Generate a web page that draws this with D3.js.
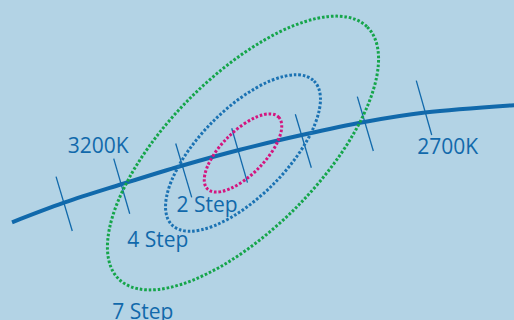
<!DOCTYPE html>
<html>
<head>
<meta charset="utf-8">
<script src="https://cdn.jsdelivr.net/npm/d3@7"></script>
<style>
  html, body { margin: 0; padding: 0; background: #b3d3e5; }
  svg { display: block; }
</style>
</head>
<body>
<svg id="chart" width="514" height="320"></svg>
<script>
// Planckian locus samples in CIE 1931 (x, y)
const locusX = [0.40803, 0.41453, 0.42169, 0.42934, 0.43640, 0.44453, 0.45206, 0.45965, 0.47150];
const locusY = [0.39544, 0.39789, 0.40019, 0.40254, 0.40448, 0.40641, 0.40798, 0.40916, 0.41013];

// Isotemperature lines, one every 100 K
const cct     = [3300, 3200, 3100, 3000, 2900, 2800, 2700];
const isoTopX = [0.41353, 0.42074, 0.42849, 0.43549, 0.44344, 0.45119, 0.45856];
const isoTopY = [0.40114, 0.40339, 0.40529, 0.40719, 0.40894, 0.41114, 0.41314];
const isoBotX = [0.41556, 0.42274, 0.43049, 0.43746, 0.44544, 0.45319, 0.46049];
const isoBotY = [0.39435, 0.39651, 0.39856, 0.40039, 0.40226, 0.40435, 0.40635];
const labelledCct = [3200, 2700];
const cctLabels   = ["3200K", "2700K"];

// MacAdam ellipse around the 3000 K target (one-step semi-axes)
const ellipseCenterX = 0.4369;
const ellipseCenterY = 0.4041;
const ellipseA = 0.00316;
const ellipseB = 0.00136;
const ellipseAngle = 45.4;          // degrees, counter-clockwise from the x axis
const steps      = [2, 4, 7];
const stepLabels = ["2 Step", "4 Step", "7 Step"];

// ---- styling / layout ----
const W = 514, H = 320;
const INK = "#1169ab";
const stepColors = ["#d4157f", "#1b72b3", "#15a54a"];
const cctLabelOffset = [[15, -5.4, "end"], [-14.4, 19, "start"]];   // from isotherm top / bottom
const stepLabelOffset = [[-66.5, 58.7], [-115.7, 94.3], [-130.7, 165.5]];

const x = d3.scaleLinear().domain([0.406525, 0.470775]).range([0, W]);
const y = d3.scaleLinear().domain([0.383225, 0.423225]).range([H, 0]);

const svg = d3.select("#chart");
svg.append("rect").attr("width", W).attr("height", H).attr("fill", "#b3d3e5");

// locus curve
const locus = d3.zip(locusX, locusY);
svg.append("path")
  .datum(locus)
  .attr("d", d3.line().x(d => x(d[0])).y(d => y(d[1])).curve(d3.curveCatmullRom.alpha(0.5)))
  .attr("fill", "none")
  .attr("stroke", INK)
  .attr("stroke-width", 4);

// isotherm ticks
const iso = cct.map((t, i) => ({ t, x1: isoTopX[i], y1: isoTopY[i], x2: isoBotX[i], y2: isoBotY[i] }));
svg.append("g").selectAll("line")
  .data(iso)
  .join("line")
  .attr("x1", d => x(d.x1)).attr("y1", d => y(d.y1))
  .attr("x2", d => x(d.x2)).attr("y2", d => y(d.y2))
  .attr("stroke", INK)
  .attr("stroke-width", 1.3);

// CCT labels
const fontFamily = "'Open Sans', 'Noto Sans', sans-serif";
labelledCct.forEach((t, i) => {
  const d = iso.find(e => e.t === t);
  const o = cctLabelOffset[i];
  const ax = o[1] < 0 ? x(d.x1) : x(d.x2);
  const ay = o[1] < 0 ? y(d.y1) : y(d.y2);
  svg.append("text")
    .attr("x", ax + o[0]).attr("y", ay + o[1])
    .attr("text-anchor", o[2])
    .attr("font-family", fontFamily)
    .attr("font-size", 21)
    .attr("fill", INK)
    .text(cctLabels[i]);
});

// step labels
const cx = x(ellipseCenterX), cy = y(ellipseCenterY);
stepLabels.forEach((s, i) => {
  svg.append("text")
    .attr("x", cx + stepLabelOffset[i][0]).attr("y", cy + stepLabelOffset[i][1])
    .attr("font-family", fontFamily)
    .attr("font-size", 21)
    .attr("fill", INK)
    .text(s);
});

// MacAdam ellipses, dotted
svg.append("g").selectAll("ellipse")
  .data(steps)
  .join("ellipse")
  .attr("cx", 0).attr("cy", 0)
  .attr("rx", n => x(ellipseCenterX + ellipseA * n) - cx)
  .attr("ry", n => x(ellipseCenterX + ellipseB * n) - cx)
  .attr("transform", `translate(${cx},${cy}) rotate(${-ellipseAngle})`)
  .attr("fill", "none")
  .attr("stroke", (n, i) => stepColors[i])
  .attr("stroke-width", 3)
  .attr("stroke-dasharray", "2.6 1.9");
</script>
</body>
</html>
